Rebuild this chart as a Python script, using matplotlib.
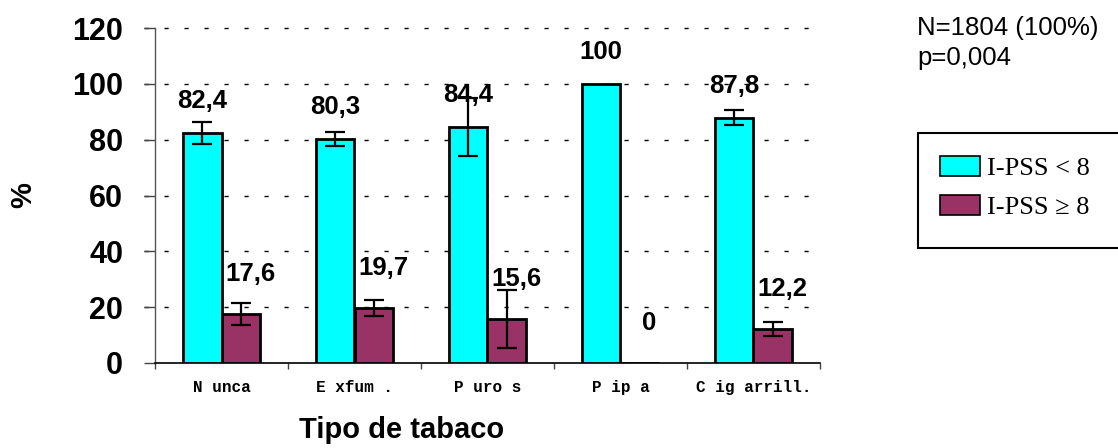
import numpy as np
import matplotlib
matplotlib.use("Agg")
import matplotlib.pyplot as plt
from matplotlib.patches import Patch, Rectangle

categories = ["N unca", "E xfum .", "P uro s", "P ip a", "C ig arrill."]
low_ipss = [82.4, 80.3, 84.4, 100, 87.8]
high_ipss = [17.6, 19.7, 15.6, 0, 12.2]
low_err = [3.9, 2.6, 10.4, 0, 2.7]
high_err = [3.9, 2.7, 10.4, 0, 2.5]
low_labels = ["82,4", "80,3", "84,4", "100", "87,8"]
high_labels = ["17,6", "19,7", "15,6", "0", "12,2"]
series_names = ["I-PSS < 8", "I-PSS \u2265 8"]
yticks = [0, 20, 40, 60, 80, 100, 120]

CYAN = "#00FFFF"
PURPLE = "#993366"

fig = plt.figure(figsize=(11.18, 4.48), dpi=100)
W, H = 1118, 448
ax = fig.add_axes([155 / W, 1 - 363 / H, (820 - 155) / W, (363 - 28) / H])

x = np.arange(len(categories))
bw = 0.29

ax.bar(x - bw / 2, low_ipss, bw, color=CYAN, edgecolor="black", linewidth=2.0, zorder=3)
ax.bar(x + bw / 2, high_ipss, bw, color=PURPLE, edgecolor="black", linewidth=2.0, zorder=3)

for xs, vals, errs in ((x - bw / 2, low_ipss, low_err), (x + bw / 2, high_ipss, high_err)):
    for xi, v, e in zip(xs, vals, errs):
        if e > 0:
            ax.errorbar(xi, v, yerr=e, fmt="none", ecolor="black", elinewidth=1.6,
                        capsize=7.5, capthick=1.6, zorder=4)

lab_font = dict(family="Liberation Sans", weight="bold", fontsize=18.5)
for xi, v, t in zip(x - bw / 2, low_ipss, low_labels):
    ax.annotate(t, (xi, v), xytext=(0, 23), textcoords="offset points",
                ha="center", va="center", zorder=5, **lab_font)
for xi, v, t in zip(x + bw / 2, high_ipss, high_labels):
    ax.annotate(t, (xi, v), xytext=(7, 29), textcoords="offset points",
                ha="center", va="center", zorder=5, **lab_font)

ax.set_xlim(-0.5, len(categories) - 0.5)
ax.set_ylim(0, 120)
ax.set_yticks(yticks)
ax.set_yticklabels([str(t) for t in yticks], family="Liberation Sans",
                   weight="bold", fontsize=22)
ax.tick_params(axis="y", direction="out", length=8, width=1, pad=15, color="#444444")

ax.set_xticks(np.arange(len(categories) + 1) - 0.5, minor=False)
ax.set_xticklabels([""] * (len(categories) + 1))
ax.tick_params(axis="x", direction="out", length=4, width=1, color="#444444")
ax.set_xticks(x, minor=True)
ax.set_xticklabels(categories, minor=True, family="Liberation Mono",
                   weight="bold", fontsize=11.5)
ax.tick_params(axis="x", which="minor", length=0, pad=12)

for g in yticks[1:]:
    ax.plot([-0.58, len(categories) - 0.5], [g, g], color="black", lw=1.0,
            ls=(0, (3, 11.4)), clip_on=False, zorder=1)

for s in ("top", "right"):
    ax.spines[s].set_visible(False)
ax.spines["left"].set_color("#555555")
ax.spines["left"].set_linewidth(1)
ax.spines["bottom"].set_linewidth(1.2)

fig.text(23 / W, 1 - 195 / H, "%", rotation=90, ha="center", va="center",
         family="Liberation Sans", weight="bold", fontsize=21)
fig.text(402 / W, 1 - 430 / H, "Tipo de tabaco", ha="center", va="center",
         family="Liberation Sans", weight="bold", fontsize=21)

fig.text(917 / W, 1 - 28 / H, "N=1804 (100%)", ha="left", va="center",
         family="Liberation Sans", fontsize=18.5)
fig.text(917 / W, 1 - 58 / H, "p=0,004", ha="left", va="center",
         family="Liberation Sans", fontsize=18.5)

# legend box runs off the right edge of the figure
fig.patches.append(Rectangle((918 / W, 1 - 248 / H), 220 / W, 115 / H,
                             transform=fig.transFigure, facecolor="white",
                             edgecolor="black", linewidth=1.5, zorder=1))
handles = [Patch(facecolor=CYAN, edgecolor="black", linewidth=1.2),
           Patch(facecolor=PURPLE, edgecolor="black", linewidth=1.2)]
leg = fig.legend(handles, series_names, loc="upper left",
                 bbox_to_anchor=(932 / W, 1 - 148 / H), frameon=False,
                 prop=dict(family="Liberation Serif", size=19),
                 handlelength=1.5, handleheight=0.8, handletextpad=0.3,
                 labelspacing=0.55, borderpad=0.3, borderaxespad=0)
leg.set_zorder(2)

fig.savefig("out.png", dpi=100)
